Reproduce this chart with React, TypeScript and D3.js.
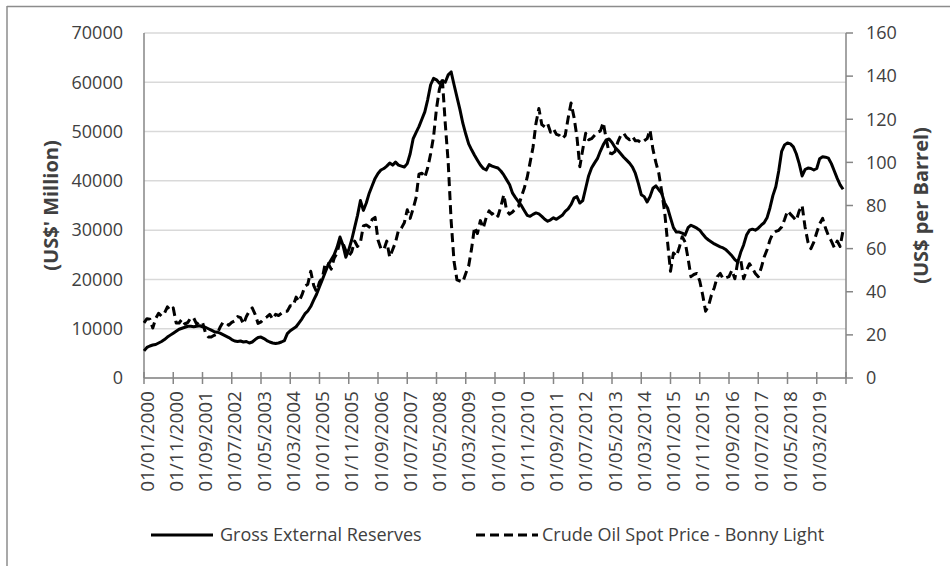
import React from 'react';
import * as d3 from 'd3';

// Monthly data, Jan 2000 – Dec 2019
const grossReserves = [
  5500, 6200, 6500, 6700, 6800, 7100, 7400, 7800, 8300, 8700, 9100, 9500,
  9900, 10100, 10300, 10500, 10500, 10400, 10500, 10600, 10400, 10300, 10000, 9700,
  9400, 9300, 9100, 8800, 8500, 8200, 7800, 7500, 7400, 7500, 7300, 7400,
  7100, 7300, 7800, 8200, 8300, 8000, 7600, 7300, 7100, 7000, 7100, 7300,
  7600, 9000, 9600, 10000, 10400, 11200, 12000, 13000, 13600, 14500, 15800, 17000,
  18500, 20000, 21500, 23000, 24000, 25000, 26500, 28600, 27000, 24500, 26000, 28000,
  30500, 33000, 36000, 34000, 35500, 37500, 39000, 40500, 41500, 42200, 42500, 43000,
  43600, 43200, 43800, 43200, 43000, 42800, 43500, 45500, 48500, 49800, 51000, 52500,
  54000, 56500, 59500, 60800, 60500, 59800, 60300, 60000, 61500, 62100, 59500, 57000,
  54500, 51700, 49500, 47500, 46300, 45200, 44200, 43200, 42500, 42200, 43300, 43000,
  42800, 42600, 42000, 41200, 40200, 39200, 37500, 36600, 35800, 35000, 34000, 33000,
  32800, 33200, 33500, 33300, 32800, 32200, 31800, 32100, 32500, 32200, 32600, 33000,
  33800, 34300, 35200, 36500, 36800, 35500, 36000, 38500, 41000, 42600, 43600, 44500,
  46000, 47300, 48300, 48500, 47800, 46800, 46200, 45500, 44800, 44200, 43600, 42800,
  41500, 39500, 37200, 36800, 35700, 36800, 38500, 39000, 38200, 37500, 35500, 34500,
  32500, 30500, 29600, 29600, 29400, 29000, 30500, 31000, 30700, 30400, 30000, 29200,
  28500, 28000, 27600, 27200, 26900, 26600, 26400, 26000, 25400, 24800, 24000, 23500,
  25500, 27000, 29000, 30000, 30200, 30000, 30400, 31000, 31500, 32500, 34500, 37000,
  38800, 42000, 46000, 47300, 47700, 47500, 46900, 45500, 43500, 41000, 42300, 42600,
  42500, 42200, 42500, 44500, 44900, 44800, 44600, 43500, 42000, 40500, 39200, 38300,
];

const bonnyLight = [
  25.6, 27.5, 27.3, 23.2, 27.6, 30.0, 28.7, 30.1, 33.0, 31.3, 32.5, 25.5,
  25.5, 27.3, 25.0, 25.8, 28.0, 27.8, 25.0, 26.0, 25.8, 21.0, 19.0, 19.0,
  19.8, 20.5, 23.5, 25.8, 25.5, 24.5, 25.8, 26.5, 28.5, 28.0, 25.0, 28.5,
  31.0, 32.5, 29.5, 25.3, 26.0, 27.5, 28.3, 29.5, 27.3, 29.5, 29.0, 30.0,
  31.0, 31.0, 33.5, 33.5, 37.5, 35.5, 38.5, 42.5, 43.5, 49.5, 43.0, 40.0,
  44.5, 46.5, 53.5, 53.0, 50.5, 55.5, 58.0, 63.5, 62.5, 59.0, 56.5, 58.5,
  63.5, 61.0, 63.0, 70.5, 71.0, 70.0, 73.5, 74.5, 64.0, 60.0, 59.5, 63.5,
  56.0, 59.5, 63.0, 68.5, 69.5, 72.0, 78.0, 74.0, 78.5, 83.5, 94.5, 95.0,
  93.0, 97.5, 104.0, 112.0, 125.0, 134.0, 138.5, 118.0, 100.0, 73.0, 54.0, 45.5,
  45.0, 44.5, 48.5, 52.0, 60.0, 70.0, 67.0, 73.0, 69.5, 74.5, 77.5, 76.0,
  77.0, 75.0, 79.5, 85.0, 77.5, 76.0, 77.0, 78.5, 79.5, 84.0, 88.0, 93.0,
  100.0, 107.0, 118.0, 125.0, 117.5, 116.5, 118.0, 114.0, 115.5, 113.0, 112.5, 111.0,
  112.5, 120.5, 127.5, 121.0, 112.0, 98.0, 106.0, 113.5, 110.5, 111.0, 112.5, 114.0,
  114.5, 118.5, 111.0, 104.5, 104.0, 105.0, 109.5, 112.5, 113.5, 111.5, 110.5, 112.0,
  110.0, 110.0, 109.0, 110.0, 111.0, 115.0, 106.0, 100.0, 95.0, 86.5, 77.0, 63.0,
  49.5, 58.0, 56.5, 60.5, 65.5, 63.0, 55.5, 47.0, 48.0, 48.5, 45.0, 38.5,
  31.0, 33.5, 38.5, 42.0, 47.0, 48.5, 46.0, 46.5, 47.0, 50.0, 46.0, 54.0,
  55.0, 46.0, 50.0, 53.0, 51.0, 48.5, 47.0, 51.0, 56.0, 59.5, 64.0, 67.0,
  68.0, 68.5, 70.0, 73.5, 77.5, 76.0, 74.5, 73.0, 77.5, 80.0, 70.0, 63.0,
  60.0, 63.0, 67.5, 71.5, 74.0, 69.5, 66.0, 63.5, 60.5, 63.5, 61.0, 68.5,
];

const xTickLabels = [
  '01/01/2000', '01/11/2000', '01/09/2001', '01/07/2002', '01/05/2003', '01/03/2004',
  '01/01/2005', '01/11/2005', '01/09/2006', '01/07/2007', '01/05/2008', '01/03/2009',
  '01/01/2010', '01/11/2010', '01/09/2011', '01/07/2012', '01/05/2013', '01/03/2014',
  '01/01/2015', '01/11/2015', '01/09/2016', '01/07/2017', '01/05/2018', '01/03/2019',
];
const tickStepMonths = 10;
const totalMonths = 240;
const leftTicks = [0, 10000, 20000, 30000, 40000, 50000, 60000, 70000];
const rightTicks = [0, 20, 40, 60, 80, 100, 120, 140, 160];

const W = 950;
const H = 566;
const M = { left: 144, right: 846, top: 33, bottom: 378 };
const FONT = '"Open Sans", "Noto Sans", sans-serif';
const TXT = '#404040';
const AX = '#868686';

export default function App() {
  const x = d3.scaleLinear().domain([0, totalMonths]).range([M.left, M.right]);
  const yL = d3.scaleLinear().domain([0, 70000]).range([M.bottom, M.top]);
  const yR = d3.scaleLinear().domain([0, 160]).range([M.bottom, M.top]);

  const resLine = d3.line<number>().x((_, i) => x(i)).y((d) => yL(d))(grossReserves) || '';
  const oilLine = d3.line<number>().x((_, i) => x(i)).y((d) => yR(d))(bonnyLight) || '';

  const xTickPositions = d3.range(0, totalMonths + 1, tickStepMonths);

  return (
    <svg
      width={W}
      height={H}
      style={{ position: 'absolute', left: 0, top: 0, display: 'block', background: '#fff' }}
      fontFamily={FONT}
    >
      <rect x={0} y={0} width={W} height={H} fill="#fff" />
      {/* outer frame */}
      <line x1={7} y1={6.5} x2={W} y2={6.5} stroke="#8c8c8c" strokeWidth={1.5} />
      <line x1={7} y1={6} x2={7} y2={H} stroke="#8c8c8c" strokeWidth={1.5} />

      {/* gridlines */}
      {leftTicks.map((t) => (
        <line key={'g' + t} x1={M.left} x2={M.right} y1={yL(t)} y2={yL(t)} stroke="#d9d9d9" strokeWidth={1.5} />
      ))}

      {/* left axis */}
      <line x1={M.left} x2={M.left} y1={M.top} y2={M.bottom} stroke={AX} strokeWidth={1.5} />
      {leftTicks.map((t) => (
        <text key={'lt' + t} x={123} y={yL(t)} dy="0.35em" textAnchor="end" fontSize={18} fill={TXT}>
          {t}
        </text>
      ))}
      <text
        transform={`translate(51, ${(M.top + M.bottom) / 2}) rotate(-90)`}
        textAnchor="middle"
        dy="0.35em"
        fontSize={20}
        fontWeight="bold"
        fill={TXT}
      >
        (US$' Million)
      </text>

      {/* right axis */}
      <line x1={M.right} x2={M.right} y1={M.top} y2={M.bottom} stroke={AX} strokeWidth={1.5} />
      {rightTicks.map((t) => (
        <g key={'rt' + t}>
          <line x1={M.right} x2={M.right + 7} y1={yR(t)} y2={yR(t)} stroke={AX} strokeWidth={1.5} />
          <text x={866} y={yR(t)} dy="0.35em" textAnchor="start" fontSize={18} fill={TXT}>
            {t}
          </text>
        </g>
      ))}
      <text
        transform={`translate(921, ${(M.top + M.bottom) / 2}) rotate(-90)`}
        textAnchor="middle"
        dy="0.35em"
        fontSize={20}
        fontWeight="bold"
        fill={TXT}
      >
        (US$ per Barrel)
      </text>

      {/* bottom axis */}
      <line x1={M.left} x2={M.right} y1={M.bottom} y2={M.bottom} stroke={AX} strokeWidth={1.5} />
      {xTickPositions.map((m) => (
        <line key={'xt' + m} x1={x(m)} x2={x(m)} y1={M.bottom - 6} y2={M.bottom + 6} stroke={AX} strokeWidth={1.5} />
      ))}
      {xTickLabels.map((lab, k) => (
        <text
          key={'xl' + k}
          transform={`translate(${x(k * tickStepMonths) + 3}, 391) rotate(-90)`}
          textAnchor="end"
          dy="0.35em"
          fontSize={19}
          fill={TXT}
        >
          {lab}
        </text>
      ))}

      {/* series */}
      <path d={oilLine} fill="none" stroke="#000" strokeWidth={3} strokeDasharray="9,5" strokeLinejoin="round" />
      <path d={resLine} fill="none" stroke="#000" strokeWidth={3} strokeLinejoin="round" />

      {/* legend */}
      <line x1={151} x2={213} y1={535} y2={535} stroke="#000" strokeWidth={3} />
      <text x={220} y={535} dy="0.35em" fontSize={18} fill={TXT}>
        Gross External Reserves
      </text>
      <line x1={476} x2={538} y1={535} y2={535} stroke="#000" strokeWidth={3} strokeDasharray="9,5" />
      <text x={542} y={535} dy="0.35em" fontSize={18} fill={TXT}>
        Crude Oil Spot Price - Bonny Light
      </text>
    </svg>
  );
}
